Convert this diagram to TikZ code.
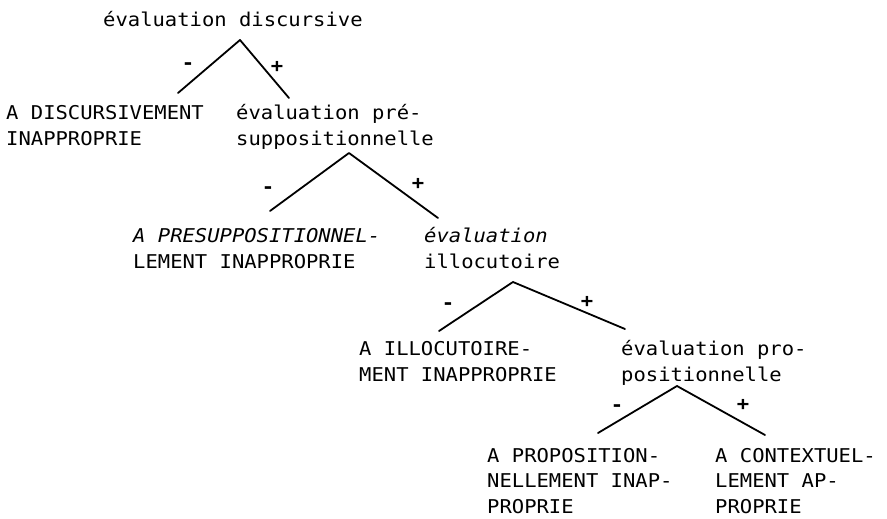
\documentclass[tikz,border=0pt]{standalone}
\usepackage{fontspec}
\setmainfont[FakeStretch=1.08]{DejaVu Sans Mono}
\begin{document}
\begin{tikzpicture}[x=1pt,y=-1pt,
  lbl/.style={anchor=base west, inner sep=0pt, align=left, font=\fontsize{19}{26}\selectfont},
  lbl3/.style={lbl, font=\fontsize{19}{25.5}\selectfont},
  sign/.style={inner sep=0pt, font=\fontsize{19}{19}\selectfont\bfseries},
  branch/.style={line width=1.8pt, line cap=round, line join=round}]
\useasboundingbox (0,0) rectangle (887,519);
% texts (anchored at the baseline of their last line)
\node[lbl] (t0) at (103,27) {évaluation discursive};
\node[lbl] (l1) at (6,145) {A DISCURSIVEMENT\\INAPPROPRIE};
\node[lbl] (r1) at (236,145) {évaluation pré-\\suppositionnelle};
\node[lbl] (l2) at (133,268) {{\itshape A PRESUPPOSITIONNEL-}\\LEMENT INAPPROPRIE};
\node[lbl] (r2) at (424,268) {{\itshape évaluation}\\illocutoire};
\node[lbl] (l3) at (359,381) {A ILLOCUTOIRE-\\MENT INAPPROPRIE};
\node[lbl] (r3) at (621,381) {évaluation pro-\\positionnelle};
\node[lbl3] (l4) at (487,513) {A PROPOSITION-\\NELLEMENT INAP-\\PROPRIE};
\node[lbl3] (r4) at (715,513) {A CONTEXTUEL-\\LEMENT AP-\\PROPRIE};
% branch points
\coordinate (a1) at (240,40);  \coordinate (a1l) at (178,93);  \coordinate (a1r) at (289,98);
\coordinate (a2) at (349,153); \coordinate (a2l) at (270,211); \coordinate (a2r) at (438,218);
\coordinate (a3) at (513,282); \coordinate (a3l) at (439,331); \coordinate (a3r) at (625,329);
\coordinate (a4) at (677,386); \coordinate (a4l) at (598,433); \coordinate (a4r) at (765,435);
\draw[branch] (a1l) -- (a1) -- (a1r);
\draw[branch] (a2l) -- (a2) -- (a2r);
\draw[branch] (a3l) -- (a3) -- (a3r);
\draw[branch] (a4l) -- (a4) -- (a4r);
% signs
\node[sign] (m1) at (188,66) {-};  \node[sign] (p1) at (277,67) {+};
\node[sign] (m2) at (268,190) {-}; \node[sign] (p2) at (418,184) {+};
\node[sign] (m3) at (448,306) {-}; \node[sign] (p3) at (587,302) {+};
\node[sign] (m4) at (617,408) {-}; \node[sign] (p4) at (743,405) {+};
\end{tikzpicture}
\end{document}
